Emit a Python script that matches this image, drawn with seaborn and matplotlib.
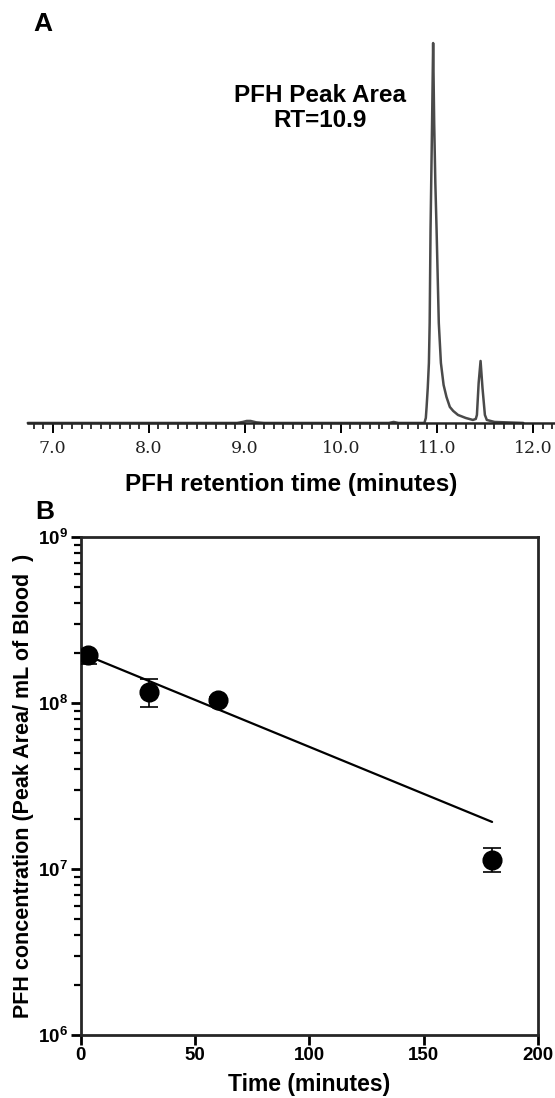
import matplotlib
matplotlib.use("Agg")
import matplotlib.pyplot as plt
import numpy as np
import pandas as pd
import seaborn as sns
from matplotlib.ticker import MultipleLocator, LogLocator, NullFormatter, FormatStrFormatter

# panel A: chromatogram trace (minutes, signal in arbitrary units)
rt_minutes = [6.74, 8.92, 8.98, 9.02, 9.06, 9.12, 9.20, 10.50, 10.55, 10.60, 10.87,
              10.885, 10.893, 10.905, 10.917, 10.925, 10.934, 10.950, 10.961, 10.972,
              10.984, 10.997, 11.02, 11.042, 11.07, 11.10, 11.135, 11.17, 11.22,
              11.30, 11.375, 11.405, 11.417, 11.435, 11.455, 11.475, 11.50, 11.52,
              11.60, 11.90]
signal = [0, 0, 1.0, 2.0, 2.0, 0.6, 0, 0, 1.0, 0, 0,
          5, 16, 35, 60, 100, 193, 300, 380, 300,
          240, 193, 100, 60, 38, 26, 16, 12, 8,
          5, 3, 4, 8, 40, 62, 35, 8, 3,
          1, 0]

# panel B: blood concentration over time
time_min = [3, 30, 60, 180]
conc_mean = [1.94e8, 1.165e8, 1.04e8, 1.14e7]
err_low = [0.23e8, 0.225e8, 0.04e8, 0.18e7]
err_high = [0.04e8, 0.225e8, 0.04e8, 0.19e7]
fit_time = [0, 180]
fit_conc = [2.0e8, 1.92e7]
x_ticks_b = [0, 50, 100, 150, 200]


def draw_chromatogram(fig):
    ax = fig.add_axes([0.05, 0.6148, 0.95, 0.346])
    trace = pd.DataFrame({"rt": rt_minutes, "signal": signal})
    sns.lineplot(data=trace, x="rt", y="signal", ax=ax, color="#4a4a4a",
                 linewidth=1.8, clip_on=False, estimator=None, sort=False)
    ax.set_xlim(6.74, 12.23)
    ax.set_ylim(0, 380)
    for side in ["left", "right", "top"]:
        ax.spines[side].set_visible(False)
    ax.spines["bottom"].set_linewidth(1.8)
    ax.set_yticks([])
    ax.xaxis.set_major_locator(MultipleLocator(1.0))
    ax.xaxis.set_minor_locator(MultipleLocator(0.1))
    ax.xaxis.set_major_formatter(FormatStrFormatter("%.1f"))
    ax.tick_params(axis="x", which="major", direction="out", length=7, width=1.4, pad=5)
    ax.tick_params(axis="x", which="minor", direction="out", length=4, width=1.1)
    for lab in ax.get_xticklabels():
        lab.set_fontfamily("DejaVu Serif")
        lab.set_fontsize(12.5)
        lab.set_color("#222222")
    ax.set_xlabel("PFH retention time (minutes)", fontsize=17.5, fontweight="bold", labelpad=12)
    ax.set_ylabel("")
    ax.text(9.78, 315, "PFH Peak Area\nRT=10.9", ha="center", va="center",
            fontsize=17.5, fontweight="bold", linespacing=1.1)
    return ax


def draw_clearance(fig):
    ax = fig.add_axes([0.1455, 0.0574, 0.8235, 0.4536])
    ax.set_yscale("log")
    ax.plot(fit_time, fit_conc, color="black", linewidth=1.6, zorder=2)
    ax.errorbar(time_min, conc_mean, yerr=[err_low, err_high], fmt="none", ecolor="black",
                elinewidth=1.2, capsize=6.5, capthick=1.2, zorder=3)
    points = pd.DataFrame({"t": time_min, "c": conc_mean})
    sns.scatterplot(data=points, x="t", y="c", ax=ax, color="black", s=180,
                    edgecolor="black", zorder=4)
    ax.set_xlim(0, 200)
    ax.set_ylim(1e6, 1e9)
    ax.set_xticks(x_ticks_b)
    ax.yaxis.set_major_locator(LogLocator(base=10, numticks=10))
    ax.yaxis.set_minor_locator(LogLocator(base=10, subs=np.arange(2, 10), numticks=10))
    ax.yaxis.set_minor_formatter(NullFormatter())
    for side in ax.spines:
        ax.spines[side].set_linewidth(2)
    ax.tick_params(axis="both", which="major", direction="out", length=7, width=2,
                   labelsize=13.5, pad=2)
    ax.tick_params(axis="y", which="minor", direction="out", length=5, width=1.6)
    for lab in ax.get_xticklabels() + ax.get_yticklabels():
        lab.set_fontweight("bold")
    ax.set_xlabel("Time (minutes)", fontsize=16.5, fontweight="bold", labelpad=6)
    ax.set_ylabel("PFH concentration (Peak Area/ mL of Blood  )", fontsize=15.5,
                  fontweight="bold", labelpad=3)
    return ax


def main():
    sns.set_theme()
    sns.set_style("ticks")
    plt.rcParams["font.family"] = ["Liberation Sans", "DejaVu Sans"]
    plt.rcParams["text.color"] = "black"
    plt.rcParams["axes.labelcolor"] = "black"
    plt.rcParams["xtick.color"] = "black"
    plt.rcParams["ytick.color"] = "black"
    plt.rcParams["mathtext.default"] = "bf"

    fig = plt.figure(figsize=(5.55, 10.98), dpi=100)
    draw_chromatogram(fig)
    draw_clearance(fig)

    fig.text(0.077, 0.978, "A", fontsize=19, fontweight="bold", ha="center", va="center")
    fig.text(0.081, 0.534, "B", fontsize=19, fontweight="bold", ha="center", va="center")

    fig.savefig("out.png", dpi=100)


if __name__ == "__main__":
    main()
